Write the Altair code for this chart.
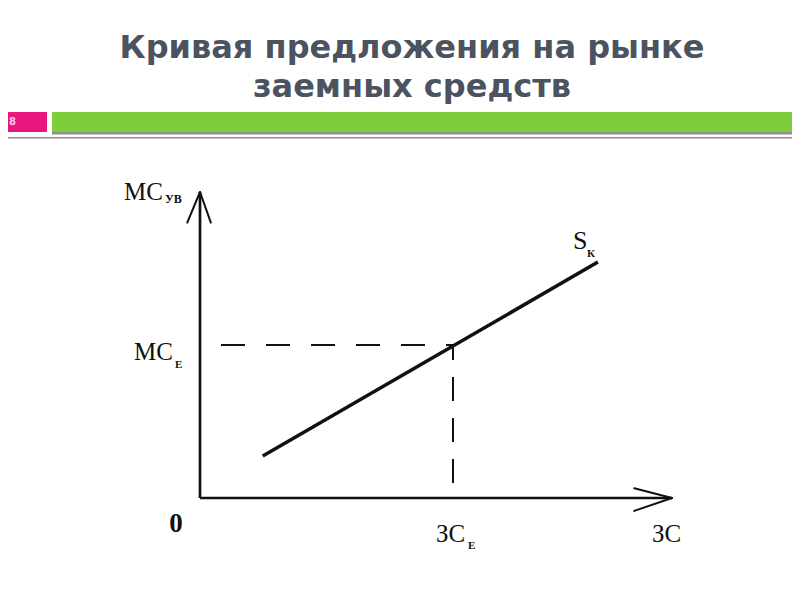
import altair as alt
import pandas as pd

# ---- data (diagram units) ----
axis_max_q = 10.0          # length of the horizontal axis (ЗС)
axis_max_p = 10.0          # length of the vertical axis (МС)
supply_q = [1.33, 8.43]    # supply curve S_K end points
supply_p = [1.37, 7.71]
eq_q = 5.36                # equilibrium ЗС_E
eq_p = 5.0                 # equilibrium МС_E

title_lines = ["Кривая предложения на рынке", "заемных средств"]
slide_number = "8"

# ---- layout ----
W, H = 784, 584
X0, PXU = 192, 47.2        # chart px of origin, px per unit (x)
Y0, PYU = 490, 30.6        # chart px of origin, px per unit (y)
xs = alt.Scale(domain=[-X0 / PXU, (W - X0) / PXU], nice=False, zero=False)
ys = alt.Scale(domain=[-(H - Y0) / PYU, Y0 / PYU], nice=False, zero=False)

one = pd.DataFrame({"k": [0]})


def rect(x, x2, y, y2, color):
    return alt.Chart(one).mark_rect(color=color).encode(
        x=alt.value(x), x2=alt.value(x2), y=alt.value(y), y2=alt.value(y2))


def seg(q1, p1, q2, p2, width=2.5, dash=None, offset=0, cap="butt"):
    df = pd.DataFrame({"q": [q1], "p": [p1], "q2": [q2], "p2": [p2]})
    kw = dict(color="#111111", strokeWidth=width, strokeCap=cap)
    if dash:
        kw["strokeDash"] = dash
        kw["strokeDashOffset"] = offset
    return alt.Chart(df).mark_rule(**kw).encode(
        x=alt.X("q:Q", scale=xs, axis=None), y=alt.Y("p:Q", scale=ys, axis=None),
        x2="q2", y2="p2")


def label(q, p, txt, dx, dy, size, bold=False, align="left"):
    df = pd.DataFrame({"q": [q], "p": [p], "t": [txt]})
    return alt.Chart(df).mark_text(
        font="Liberation Serif", fontSize=size, fontWeight="bold" if bold else "normal",
        color="#111111", align=align, baseline="alphabetic", dx=dx, dy=dy).encode(
        x=alt.X("q:Q", scale=xs, axis=None), y=alt.Y("p:Q", scale=ys, axis=None), text="t:N")


layers = []
# header
layers.append(rect(0, 39, 104, 124, "#e8177e"))
layers.append(rect(44, W, 104, 124, "#7ecd3d"))
layers.append(rect(44, W, 124, 126.5, "#8f8f8f"))
layers.append(rect(0, W, 129, 130.5, "#8f8f8f"))
layers.append(alt.Chart(one).mark_text(
    font="DejaVu Sans", fontSize=10, fontWeight="bold", color="#fbc9e4",
    align="left", baseline="middle").encode(
    x=alt.value(1), y=alt.value(114), text=alt.value(slide_number)))
for i, t in enumerate(title_lines):
    layers.append(alt.Chart(one).mark_text(
        font="DejaVu Sans", fontSize=32, fontWeight="bold", color="#4b5361",
        align="center", baseline="alphabetic").encode(
        x=alt.value(404), y=alt.value(50 + 39 * i), text=alt.value(t)))

# axes with arrows
layers.append(seg(0, 0, 0, axis_max_p, 2.7))
layers.append(seg(0, 0, axis_max_q, 0, 2.7))
layers.append(seg(0, axis_max_p, -0.27, axis_max_p - 1.0, 2.0, cap="round"))
layers.append(seg(0, axis_max_p, 0.23, axis_max_p - 1.0, 2.0, cap="round"))
layers.append(seg(axis_max_q, 0, axis_max_q - 0.8, 0.32, 2.0, cap="round"))
layers.append(seg(axis_max_q, 0, axis_max_q - 0.8, -0.42, 2.0, cap="round"))

# dashed guides
layers.append(seg(0, eq_p, eq_q, eq_p, 2.0, dash=[24, 21], offset=24))
layers.append(seg(eq_q, eq_p, eq_q, 0.36, 2.0, dash=[24, 17], offset=9))

# supply curve
sup = pd.DataFrame({"q": supply_q, "p": supply_p})
layers.append(alt.Chart(sup).mark_line(color="#111111", strokeWidth=3.5).encode(
    x=alt.X("q:Q", scale=xs, axis=None), y=alt.Y("p:Q", scale=ys, axis=None)))

# labels
layers.append(label(0, axis_max_p, "МС", -37, 8, 25, align="right"))
layers.append(label(0, axis_max_p, "УВ", -35, 11, 12, bold=True))
layers.append(label(0, eq_p, "МС", -27, 15, 25, align="right"))
layers.append(label(0, eq_p, "Е", -25, 23, 11, bold=True))
layers.append(label(0, 0, "0", -24, 34, 27, bold=True, align="center"))
layers.append(label(eq_q, 0, "ЗС", -17, 44, 25))
layers.append(label(eq_q, 0, "Е", 15, 51, 11, bold=True))
layers.append(label(axis_max_q, 0, "ЗС", -20, 44, 25))
layers.append(label(supply_q[1], supply_p[1], "S", -25, -13, 26))
layers.append(label(supply_q[1], supply_p[1], "К", -11, -5, 11, bold=True))

chart = alt.layer(*layers).properties(
    width=W, height=H, padding=0, autosize=alt.AutoSizeParams(type="none"),
    background="white"
).configure_view(stroke=None)

chart.save("out.html", embed_options={"renderer": "svg", "actions": False})
